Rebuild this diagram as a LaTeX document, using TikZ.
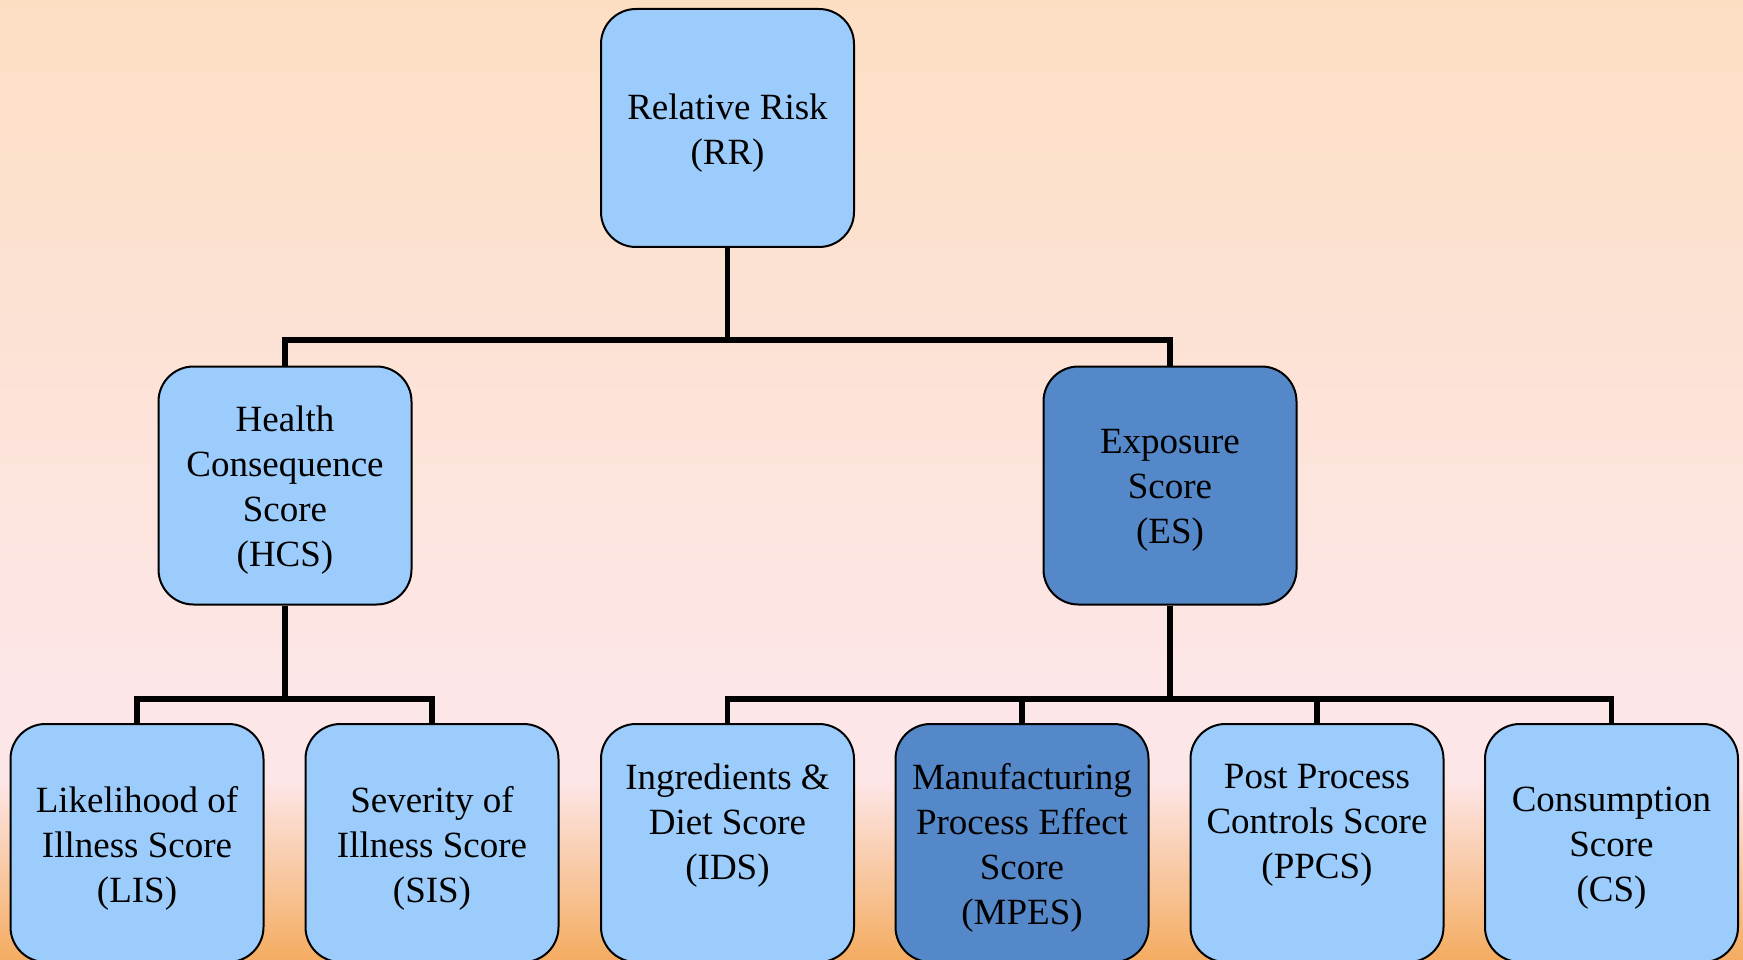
\documentclass[tikz,border=0pt]{standalone}
\usepackage{fontspec}
\setmainfont{Liberation Serif}
\definecolor{bgtop}{RGB}{252,223,195}
\definecolor{bgmid}{RGB}{253,230,232}
\definecolor{bgbot}{RGB}{244,172,96}
\definecolor{lightbox}{RGB}{156,204,252}
\definecolor{darkbox}{RGB}{84,136,200}
\begin{document}
\begin{tikzpicture}[x=1pt,y=-1pt,
  box/.style={draw=black, line width=2pt, rounded corners=35pt, minimum width=253pt,
    minimum height=238pt, inner sep=0pt},
  lbox/.style={box, fill=lightbox},
  dbox/.style={box, fill=darkbox},
  txt/.style={align=center, inner sep=0pt, font=\fontsize{37}{45}\selectfont},
  conn/.style={draw=black, line width=5.5pt}]
\useasboundingbox (0,0) rectangle (1743,960);
\shade[top color=bgtop, bottom color=bgmid] (0,0) rectangle (1743,700);
\fill[bgmid] (0,699) rectangle (1743,781);
\shade[top color=bgmid, bottom color=bgbot] (0,780) rectangle (1743,960);

\node[lbox] (RR) at (727.5,128) {};
\node[lbox] (HCS) at (285,485.5) {};
\node[dbox] (ES) at (1170,485.5) {};
\node[lbox] (LIS) at (137,843) {};
\node[lbox] (SIS) at (432,843) {};
\node[lbox] (IDS) at (727.5,843) {};
\node[dbox] (MPES) at (1022,843) {};
\node[lbox] (PPCS) at (1317,843) {};
\node[lbox] (CS) at (1611.5,843) {};

\node[txt] (tRR) at ([yshift=-5pt]RR.center) {Relative Risk\\(RR)};
\node[txt] (tHCS) at ([yshift=-5pt]HCS.center) {Health\\Consequence\\Score\\(HCS)};
\node[txt] (tES) at ([yshift=-5pt]ES.center) {Exposure\\Score\\(ES)};
\node[txt] (tLIS) at ([yshift=-5pt]LIS.center) {Likelihood of\\Illness Score\\(LIS)};
\node[txt] (tSIS) at ([yshift=-5pt]SIS.center) {Severity of\\Illness Score\\(SIS)};
\node[txt] (tIDS) at ([yshift=17.5pt]IDS.center) {Ingredients \&\\Diet Score\\(IDS)};
\node[txt] (tMPES) at ([yshift=-5pt]MPES.center) {Manufacturing\\Process Effect\\Score\\(MPES)};
\node[txt] (tPPCS) at ([yshift=17.5pt]PPCS.center) {Post Process\\Controls Score\\(PPCS)};
\node[txt] (tCS) at ([yshift=-5pt]CS.center) {Consumption\\Score\\(CS)};

\coordinate (j1) at (727.5,340);
\coordinate (j2) at (285,699);
\coordinate (j3) at (1170,699);

\draw[conn] (RR.south) -- (j1);
\draw[conn] (HCS.north) -- (HCS.north |- j1) -- (ES.north |- j1) -- (ES.north);

\draw[conn] (HCS.south) -- (j2);
\draw[conn] (LIS.north) -- (LIS.north |- j2) -- (SIS.north |- j2) -- (SIS.north);

\draw[conn] (ES.south) -- (j3);
\draw[conn] (IDS.north) -- (IDS.north |- j3) -- (CS.north |- j3) -- (CS.north);
\draw[conn] (MPES.north) -- (MPES.north |- j3);
\draw[conn] (PPCS.north) -- (PPCS.north |- j3);
\end{tikzpicture}
\end{document}
